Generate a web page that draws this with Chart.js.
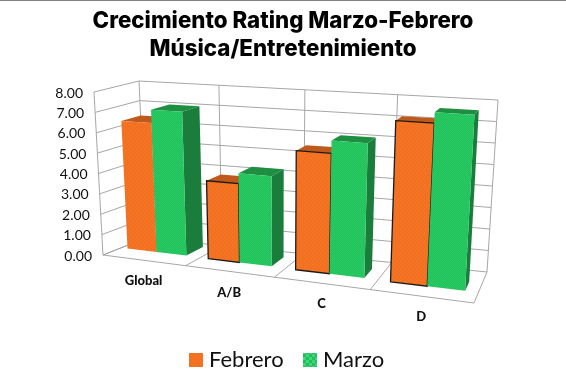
<!DOCTYPE html>
<html>
<head>
<meta charset="utf-8">
<script src="https://cdn.jsdelivr.net/npm/chart.js@4"></script>
<style>
  html, body { margin: 0; padding: 0; background: #fff; }
  #wrap { position: relative; width: 566px; height: 385px; overflow: hidden; }
  #topline { position: absolute; left: 0; top: 0; width: 566px; height: 1px; background: #808080; z-index: 2; }
</style>
</head>
<body>
<div id="wrap">
  <div id="topline"></div>
  <canvas id="ratingChart" width="566" height="385"></canvas>
</div>
<script>
const categories = ["Global", "A/B", "C", "D"];
const febrero = [6.35, 3.76, 5.56, 7.27];
const marzo = [7.0, 4.25, 6.15, 7.75];
const febreroOutline = ["rgba(0,0,0,0)", "#1a1a1a", "#1a1a1a", "#1a1a1a"];
const titleLines = ["Crecimiento Rating Marzo-Febrero", "Música/Entretenimiento"];

// box corners of the 3d plot, [x, y] on the page
const box = {
  fbl: [103, 255], ftl: [94, 92], bbl: [146, 238], btl: [139, 81],
  fbr: [474, 303], ftr: [484, 115], bbr: [487, 272], btr: [498, 100],
};

function mix(a, b, t) {
  return [a[0] + (b[0] - a[0]) * t, a[1] + (b[1] - a[1]) * t];
}

// perspective squeeze along the category axis
function warp(u) {
  const k = 0.859;
  return (k * u) / (1 + (k - 1) * u);
}

function project(u, v, w) {
  const s = warp(u);
  const bottom = mix(mix(box.fbl, box.fbr, s), mix(box.bbl, box.bbr, s), w);
  const top = mix(mix(box.ftl, box.ftr, s), mix(box.btl, box.btr, s), w);
  return mix(bottom, top, v);
}

function makePattern(size, paint) {
  const c = document.createElement("canvas");
  c.width = size;
  c.height = size;
  paint(c.getContext("2d"));
  return c.getContext("2d").createPattern(c, "repeat");
}

const orangeFill = makePattern(4, (g) => {
  g.fillStyle = "#f37021";
  g.fillRect(0, 0, 4, 4);
  g.fillStyle = "#f57f30";
  g.fillRect(0, 0, 1, 1);
  g.fillRect(2, 2, 1, 1);
});

const greenFill = makePattern(2, (g) => {
  g.fillStyle = "#1fc35a";
  g.fillRect(0, 0, 2, 2);
  g.fillStyle = "#2bc966";
  g.fillRect(0, 0, 1, 1);
  g.fillRect(1, 1, 1, 1);
});

// the legend swatch shows the check pattern bigger than the bars do
const greenSwatch = makePattern(6, (g) => {
  g.fillStyle = "#1cc158";
  g.fillRect(0, 0, 6, 6);
  g.fillStyle = "#45d27a";
  g.fillRect(0, 0, 3, 3);
  g.fillRect(3, 3, 3, 3);
});

const barStyles = [
  { top: "#c05a1c", side: "#b5551b" },
  { top: "#1e8e40", side: "#1a7d3c" },
];

function poly(ctx, pts, fill, stroke, lw) {
  ctx.beginPath();
  pts.forEach((p, i) => (i ? ctx.lineTo(p[0], p[1]) : ctx.moveTo(p[0], p[1])));
  ctx.closePath();
  if (fill) {
    ctx.fillStyle = fill;
    ctx.fill();
  }
  if (stroke) {
    ctx.strokeStyle = stroke;
    ctx.lineWidth = lw || 1;
    ctx.stroke();
  }
}

function line(ctx, a, b) {
  ctx.beginPath();
  ctx.moveTo(a[0], a[1]);
  ctx.lineTo(b[0], b[1]);
  ctx.stroke();
}

const box3d = {
  id: "box3d",
  beforeDatasetsDraw(chart) {
    const { ctx, chartArea, scales } = chart;
    const yScale = scales.y;
    const toU = (px) => (px - chartArea.left) / chartArea.width;
    const toV = (px) => (yScale.bottom - px) / (yScale.bottom - yScale.top);
    const cats = chart.data.labels.length;

    ctx.save();

    // walls
    ctx.strokeStyle = "#a6a6a6";
    ctx.lineWidth = 1;
    yScale.ticks.forEach((t) => {
      const v = toV(yScale.getPixelForValue(t.value));
      line(ctx, project(0, v, 0), project(0, v, 1));
      line(ctx, project(0, v, 1), project(1, v, 1));
    });
    line(ctx, project(0, 0, 0), project(0, 1, 0));
    for (let i = 0; i <= cats; i++) {
      const u = i / cats;
      line(ctx, project(u, 0, 1), project(u, 1, 1));
      line(ctx, project(u, 0, 0), project(u, 0, 1));
    }
    line(ctx, project(0, 0, 0), project(1, 0, 0));

    // tick labels
    ctx.fillStyle = "#111";
    ctx.font = "14px Lato";
    ctx.textAlign = "right";
    ctx.textBaseline = "middle";
    yScale.ticks.forEach((t) => {
      const v = toV(yScale.getPixelForValue(t.value));
      const p = project(0, v, 0);
      ctx.fillText(t.value.toFixed(2), p[0] - 11, p[1] + 1);
    });
    ctx.font = "900 13px Lato";
    ctx.textAlign = "center";
    chart.data.labels.forEach((label, i) => {
      const p = project((i + 0.5) / cats, 0, 0);
      ctx.fillText(label, p[0], p[1] + 21);
    });

    // bars, left to right so the next one covers the hidden side
    for (let i = 0; i < cats; i++) {
      const uc = (i + 0.5) / cats;
      const shift = -0.0135 + 0.016 * uc;
      const w0 = 0.4325 - 0.1 * uc;
      const w1 = 0.898 - 0.303 * uc;
      chart.data.datasets.forEach((ds, d) => {
        const bar = chart.getDatasetMeta(d).data[i];
        const u0 = toU(bar.x - bar.width / 2) + shift;
        const u1 = toU(bar.x + bar.width / 2) + shift;
        const v = toV(bar.y);
        const front = [project(u0, 0, w0), project(u1, 0, w0), project(u1, v, w0), project(u0, v, w0)];
        const topFace = [project(u0, v, w0), project(u1, v, w0), project(u1, v, w1), project(u0, v, w1)];
        const sideFace = [project(u1, 0, w0), project(u1, 0, w1), project(u1, v, w1), project(u1, v, w0)];
        const edge = bar.options.borderColor;
        const hasEdge = edge !== "rgba(0,0,0,0)" && edge !== "rgba(0, 0, 0, 0)";
        poly(ctx, sideFace, barStyles[d].side);
        poly(ctx, topFace, barStyles[d].top);
        poly(ctx, front, bar.options.backgroundColor, hasEdge ? edge : null, 1.3);
      });
    }

    // legend, hand placed because the built-in one keeps too wide a gap before the text
    const legendX = [189, 303];
    ctx.font = "22px Lato";
    ctx.textAlign = "left";
    chart.data.datasets.forEach((ds, d) => {
      ctx.fillStyle = d === 1 ? greenSwatch : ds.backgroundColor;
      ctx.fillRect(legendX[d], 353, 14, 14);
      ctx.fillStyle = "#111";
      ctx.fillText(ds.label, legendX[d] + 20, 360);
    });

    ctx.restore();
    return false;
  },
};

new Chart(document.getElementById("ratingChart"), {
  type: "bar",
  data: {
    labels: categories,
    datasets: [
      { label: "Febrero", data: febrero, backgroundColor: orangeFill, borderColor: febreroOutline, borderWidth: 0 },
      { label: "Marzo", data: marzo, backgroundColor: greenFill, borderColor: "rgba(0,0,0,0)", borderWidth: 0 },
    ],
  },
  options: {
    responsive: false,
    animation: false,
    categoryPercentage: 0.74,
    barPercentage: 1,
    layout: { padding: { top: 7, bottom: 14 } },
    plugins: {
      tooltip: { enabled: false },
      legend: { display: false },
      title: {
        display: true,
        text: titleLines,
        color: "#000",
        padding: { top: 0, bottom: 0 },
        font: { family: "Inter", size: 22.3, weight: "800", lineHeight: 1.27 },
      },
    },
    scales: {
      x: { display: false },
      y: { display: false, min: 0, max: 8, ticks: { stepSize: 1 } },
    },
  },
  plugins: [box3d],
});
</script>
</body>
</html>
